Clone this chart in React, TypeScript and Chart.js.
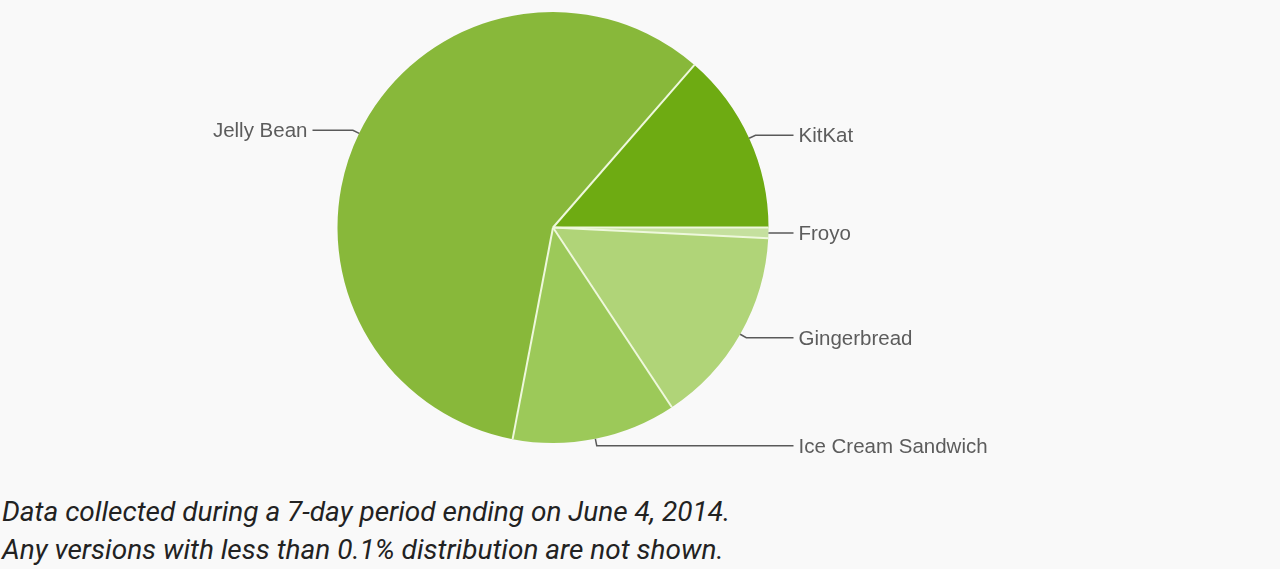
import React, { useEffect, useRef } from "react";
import { Chart, registerables } from "chart.js";

Chart.register(...registerables);

const versions = ["Froyo", "Gingerbread", "Ice Cream Sandwich", "Jelly Bean", "KitKat"];
const shares = [0.8, 14.9, 12.3, 58.4, 13.6];
const sliceColors = ["#c5e09e", "#b0d478", "#9cc959", "#88b83a", "#6eab12"];
const footnotes = [
  "Data collected during a 7-day period ending on June 4, 2014.",
  "Any versions with less than 0.1% distribution are not shown.",
];

const pieDecor = {
  id: "pieDecor",
  afterDatasetsDraw(chart: any) {
    const ctx = chart.ctx as CanvasRenderingContext2D;
    const meta = chart.getDatasetMeta(0);
    ctx.save();
    ctx.strokeStyle = "#eef8dc";
    ctx.lineWidth = 2;
    for (const arc of meta.data as any[]) {
      const x = arc.x, y = arc.y, a = arc.startAngle, r = arc.outerRadius;
      ctx.beginPath();
      ctx.moveTo(x, y);
      ctx.lineTo(x + r * Math.cos(a), y + r * Math.sin(a));
      ctx.stroke();
    }
    ctx.font = '20.5px "Liberation Sans", Arial, sans-serif';
    ctx.lineWidth = 1.5;
    ctx.strokeStyle = "#5a5a5a";
    ctx.fillStyle = "#5c5c5c";
    (meta.data as any[]).forEach((arc, i) => {
      const x = arc.x, y = arc.y, r = arc.outerRadius;
      const mid = (arc.startAngle + arc.endAngle) / 2;
      const c = Math.cos(mid);
      const s = Math.sin(mid);
      const px = x + r * c;
      const py = y + r * s;
      const ex = x + (r + 7) * c;
      const ey = y + (r + 7) * s;
      const dir = c >= 0 ? 1 : -1;
      const lx = x + dir * (r + 25);
      ctx.beginPath();
      ctx.moveTo(px, py);
      ctx.lineTo(ex, ey);
      ctx.lineTo(lx, ey);
      ctx.stroke();
      ctx.textAlign = dir > 0 ? "left" : "right";
      ctx.textBaseline = "alphabetic";
      ctx.fillText(String(chart.data.labels[i]), x + dir * (r + 30), ey + 7);
    });
    ctx.restore();
  },
};

export default function App() {
  const ref = useRef<HTMLCanvasElement | null>(null);
  useEffect(() => {
    const canvas = ref.current;
    if (!canvas) return;
    const chart = new Chart(canvas, {
      type: "pie",
      data: {
        labels: versions,
        datasets: [
          {
            data: shares,
            backgroundColor: sliceColors,
            borderWidth: 0,
          },
        ],
      },
      options: {
        responsive: false,
        animation: false,
        rotation: 90,
        layout: { padding: { top: 12, bottom: 27, left: 337, right: 511 } },
        plugins: {
          legend: { display: false },
          tooltip: { enabled: false },
        },
      },
      plugins: [pieDecor],
    });
    return () => chart.destroy();
  }, []);

  return (
    <div
      style={{
        position: "absolute",
        left: 0,
        top: 0,
        width: 1280,
        height: 569,
        background: "#f9f9f9",
        overflow: "hidden",
      }}
    >
      <canvas ref={ref} width={1280} height={470} style={{ position: "absolute", left: 0, top: 0 }} />
      <div
        style={{
          position: "absolute",
          left: 2,
          top: 493,
          fontFamily: "Roboto, sans-serif",
          fontStyle: "italic",
          fontSize: 28,
          lineHeight: "38px",
          color: "#222",
          whiteSpace: "nowrap",
        }}
      >
        {footnotes.map((t) => (
          <div key={t}>{t}</div>
        ))}
      </div>
    </div>
  );
}
